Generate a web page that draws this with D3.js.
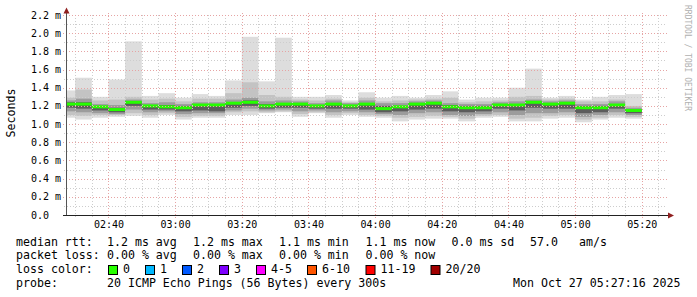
<!DOCTYPE html>
<html lang="en">
<head>
<meta charset="utf-8">
<title>SmokePing median rtt</title>
<script src="https://d3js.org/d3.v7.min.js"></script>
<style>
  body { margin: 0; background: #fff; }
  text { font-family: "DejaVu Sans Mono", monospace; white-space: pre; }
</style>
</head>
<body>
<script>
// 5 minute steps (start of each step)
var slots = ["02:25","02:30","02:35","02:40","02:45","02:50","02:55","03:00","03:05","03:10",
             "03:15","03:20","03:25","03:30","03:35","03:40","03:45","03:50","03:55","04:00",
             "04:05","04:10","04:15","04:20","04:25","04:30","04:35","04:40","04:45","04:50",
             "04:55","05:00","05:05","05:10","05:15"];

// ms values
var median = [1.22,1.22,1.19,1.16,1.24,1.20,1.19,1.18,1.21,1.21,1.23,1.24,1.20,1.22,1.22,1.20,1.22,1.20,1.22,1.17,
              1.19,1.22,1.23,1.19,1.18,1.18,1.21,1.21,1.24,1.22,1.23,1.18,1.18,1.21,1.15];
var rttMax = [1.37,1.51,1.30,1.49,1.91,1.31,1.34,1.29,1.33,1.31,1.48,1.96,1.47,1.95,1.30,1.30,1.32,1.26,1.35,1.29,
              1.31,1.29,1.32,1.36,1.27,1.29,1.29,1.40,1.61,1.29,1.31,1.27,1.30,1.32,1.33];
var rttHi2 = [1.29,1.38,1.26,1.27,1.30,1.27,1.28,1.25,1.28,1.28,1.34,1.46,1.32,1.30,1.27,1.26,1.28,1.24,1.29,1.25,
              1.26,1.27,1.28,1.29,1.24,1.25,1.26,1.30,1.31,1.27,1.28,1.25,1.25,1.27,1.20];
var rttHi3 = [1.26,1.28,1.22,1.21,1.27,1.23,1.24,1.22,1.24,1.24,1.27,1.29,1.25,1.26,1.25,1.23,1.26,1.23,1.26,1.23,
              1.23,1.25,1.26,1.23,1.22,1.22,1.24,1.25,1.27,1.25,1.26,1.22,1.22,1.25,1.18];
var rttHi4 = [1.24,1.24,1.20,1.18,1.25,1.21,1.21,1.20,1.22,1.22,1.24,1.26,1.22,1.23,1.23,1.21,1.23,1.21,1.23,1.20,
              1.20,1.23,1.24,1.21,1.20,1.20,1.22,1.22,1.25,1.23,1.24,1.20,1.20,1.22,1.16];
var rttLo4 = [1.18,1.17,1.15,1.13,1.20,1.16,1.16,1.14,1.15,1.14,1.18,1.20,1.17,1.18,1.18,1.17,1.17,1.17,1.16,1.13,
              1.14,1.16,1.17,1.14,1.13,1.14,1.17,1.15,1.18,1.17,1.17,1.12,1.13,1.17,1.12];
var rttLo3 = [1.14,1.13,1.12,1.11,1.16,1.13,1.14,1.11,1.12,1.12,1.15,1.17,1.15,1.16,1.14,1.15,1.13,1.14,1.13,1.11,
              1.10,1.12,1.13,1.10,1.09,1.11,1.13,1.10,1.12,1.12,1.13,1.08,1.10,1.13,1.10];
var rttLo2 = [1.10,1.09,1.10,1.10,1.12,1.10,1.12,1.08,1.09,1.09,1.13,1.14,1.13,1.14,1.11,1.13,1.10,1.12,1.10,1.09,
              1.07,1.08,1.09,1.08,1.06,1.09,1.10,1.06,1.07,1.09,1.10,1.05,1.07,1.10,1.08];
var rttMin = [1.07,1.05,1.07,1.08,1.09,1.07,1.10,1.05,1.07,1.07,1.10,1.10,1.12,1.13,1.08,1.12,1.07,1.10,1.08,1.07,
              1.03,1.05,1.06,1.06,1.03,1.07,1.08,1.03,1.03,1.06,1.07,1.02,1.05,1.07,1.06];

var yTicks = [0.0,0.2,0.4,0.6,0.8,1.0,1.2,1.4,1.6,1.8,2.0,2.2];

var lossNames = ["0","1","2","3","4-5","6-10","11-19","20/20"];
var lossColors = ["#26ff00","#00b8ff","#0059ff","#7e00ff","#ff00ff","#ff5500","#ff0000","#a10000"];

var svg = d3.select("body").append("svg")
  .attr("width", 697)
  .attr("height", 297);

var parse = d3.timeParse("%H:%M:%S");
var x = d3.scaleTime()
  .domain([parse("02:27:16"), parse("05:27:16")])
  .range([66, 666]);
var y = d3.scaleLinear()
  .domain([0, 2.2])
  .range([215, 15]);

svg.append("clipPath").attr("id", "plot")
  .append("rect").attr("x", 67).attr("y", 10).attr("width", 599).attr("height", 205);

// smoke
var steps = slots.map(function(s, i) {
  var a = parse(s + ":00");
  return { i: i, a: a, b: d3.timeMinute.offset(a, 5) };
});

var bands = [
  [rttMax, rttMin, "#dddddd"],
  [rttHi2, rttLo2, "#c3c3c3"],
  [rttHi3, rttLo3, "#9c9c9c"],
  [rttHi4, rttLo4, "#5c5c5c"]
];

var smoke = svg.append("g").attr("clip-path", "url(#plot)");
bands.forEach(function(b) {
  smoke.append("g").selectAll("rect")
    .data(steps)
    .enter()
    .append("rect")
    .attr("x", d => x(d.a))
    .attr("width", d => x(d.b) - x(d.a))
    .attr("y", d => y(b[0][d.i]))
    .attr("height", d => y(b[1][d.i]) - y(b[0][d.i]))
    .attr("fill", b[2]);
});

smoke.append("g").selectAll("rect")
  .data(steps)
  .enter()
  .append("rect")
  .attr("x", d => x(d.a))
  .attr("width", d => x(d.b) - x(d.a))
  .attr("y", d => y(median[d.i]) - 1.5)
  .attr("height", 3)
  .attr("fill", lossColors[0]);

// grid
var grid = svg.append("g");
var minorY = d3.range(1, 22).filter(k => k % 2 == 1).map(k => k / 10);
grid.selectAll("line.my")
  .data(minorY)
  .enter()
  .append("line")
  .attr("x1", 64).attr("x2", 667)
  .attr("y1", d => Math.round(y(d)) + 0.5)
  .attr("y2", d => Math.round(y(d)) + 0.5)
  .attr("stroke", "#cdcdcd")
  .attr("stroke-dasharray", "1,2");

var minorX = x.ticks(d3.timeMinute.every(5)).filter(t => t.getMinutes() % 20 != 0);
grid.selectAll("line.mx")
  .data(minorX)
  .enter()
  .append("line")
  .attr("x1", d => Math.round(x(d)) + 0.5)
  .attr("x2", d => Math.round(x(d)) + 0.5)
  .attr("y1", 217).attr("y2", 13)
  .attr("stroke", "#cdcdcd")
  .attr("stroke-dasharray", "1,2");

grid.selectAll("line.My")
  .data(yTicks.slice(1))
  .enter()
  .append("line")
  .attr("x1", 63).attr("x2", 667)
  .attr("y1", d => Math.round(y(d)) + 0.5)
  .attr("y2", d => Math.round(y(d)) + 0.5)
  .attr("stroke", "#e6a4a4")
  .attr("stroke-dasharray", "1,2");

var majorX = x.ticks(d3.timeMinute.every(20));
grid.selectAll("line.Mx")
  .data(majorX)
  .enter()
  .append("line")
  .attr("x1", d => Math.round(x(d)) + 0.5)
  .attr("x2", d => Math.round(x(d)) + 0.5)
  .attr("y1", 218).attr("y2", 13)
  .attr("stroke", "#e6a4a4")
  .attr("stroke-dasharray", "1,2");

// axes
svg.append("line")
  .attr("x1", 66.5).attr("x2", 66.5).attr("y1", 215).attr("y2", 12)
  .attr("stroke", "#555");
svg.append("line")
  .attr("x1", 63).attr("x2", 669).attr("y1", 215.5).attr("y2", 215.5)
  .attr("stroke", "#222");
svg.append("path")
  .attr("d", "M63.5,13.5 L66.5,7.5 L69.5,13.5 Z")
  .attr("fill", "#902020");
svg.append("path")
  .attr("d", "M668,212.5 L674,215.5 L668,218.5 Z")
  .attr("fill", "#902020");

// tick labels
svg.append("g").selectAll("text")
  .data(yTicks)
  .enter()
  .append("text")
  .attr("x", 31)
  .attr("y", d => y(d) + 3.5)
  .attr("font-size", "10px")
  .attr("fill", "#000")
  .text(d => d == 0 ? "0.0" : d.toFixed(1) + " m");

svg.append("g").selectAll("text")
  .data(majorX)
  .enter()
  .append("text")
  .attr("x", d => x(d) + 0.5)
  .attr("y", 228)
  .attr("text-anchor", "middle")
  .attr("font-size", "10px")
  .text(d => d3.timeFormat("%H:%M")(d));

svg.append("text")
  .attr("transform", "translate(15,113) rotate(-90)")
  .attr("text-anchor", "middle")
  .attr("font-size", "11.6px")
  .text("Seconds");

svg.append("text")
  .attr("transform", "translate(685,5) rotate(90)")
  .attr("font-size", "8px")
  .attr("fill", "#b0b0b0")
  .text("RRDTOOL / TOBI OETIKER");

// legend
var cols = [16, 107, 193, 279, 365.5, 451.5, 530, 579];
var rows = [245.5, 259, 273, 286.5];
var legend = svg.append("g").attr("font-size", "11.6px");

function put(col, row, s) {
  legend.append("text").attr("x", col).attr("y", row).text(s);
}
put(cols[0], rows[0], "median rtt:");
put(cols[1], rows[0], "1.2 ms avg");
put(cols[2], rows[0], "1.2 ms max");
put(cols[3], rows[0], "1.1 ms min");
put(cols[4], rows[0], "1.1 ms now");
put(cols[5], rows[0], "0.0 ms sd");
put(cols[6], rows[0], "57.0");
put(cols[7], rows[0], "am/s");

put(cols[0], rows[1], "packet loss:");
put(cols[1], rows[1], "0.00 % avg");
put(cols[2], rows[1], "0.00 % max");
put(cols[3], rows[1], "0.00 % min");
put(cols[4], rows[1], "0.00 % now");

put(cols[0], rows[2], "loss color:");
var boxX = [108.5, 145.5, 182.5, 219.5, 256.5, 307.5, 366, 431];
lossNames.forEach(function(n, i) {
  legend.append("rect")
    .attr("x", boxX[i]).attr("y", 265.5)
    .attr("width", 9).attr("height", 9)
    .attr("fill", lossColors[i])
    .attr("stroke", "#000");
  put(boxX[i] + 14.5, rows[2], n);
});

put(cols[0], rows[3], "probe:");
put(cols[1], rows[3], "20 ICMP Echo Pings (56 Bytes) every 300s");
put(513, rows[3], "Mon Oct 27 05:27:16 2025");
</script>
</body>
</html>
